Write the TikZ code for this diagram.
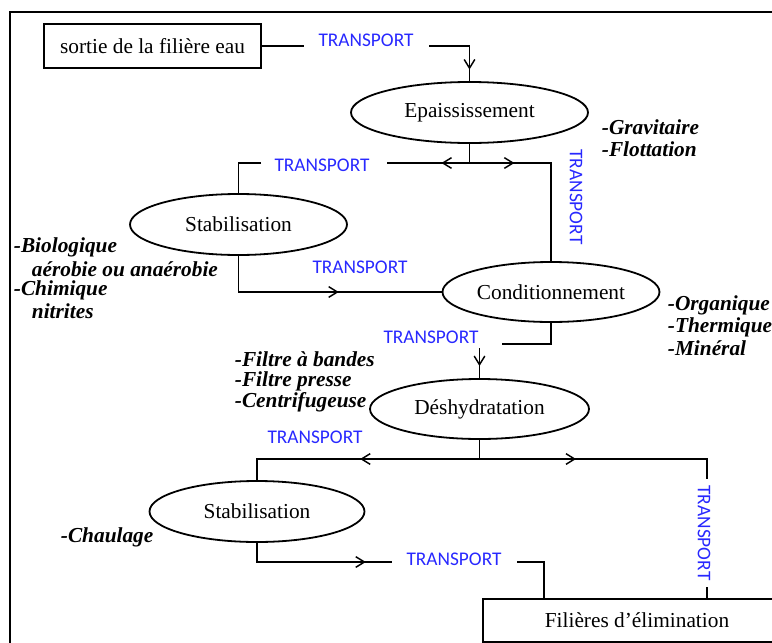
\documentclass[tikz,border=0pt]{standalone}
\usepackage{fontspec}
\setmainfont{Liberation Serif}
\newfontfamily\transfont{Carlito}
\usetikzlibrary{shapes.geometric,decorations.markings,arrows.meta}

\definecolor{transblue}{RGB}{40,40,255}
\tikzset{every picture/.style={line width=1.35pt}}
\tikzset{
  stage/.style={draw, ellipse, inner sep=0pt, font=\fontsize{16}{18}\selectfont},
  endbox/.style={draw, rectangle, inner sep=0pt, font=\fontsize{16}{18}\selectfont},
  transport/.style={text=transblue, inner sep=0pt, font=\transfont\fontsize{14.5}{16}\selectfont},
  process/.style={anchor=west, inner sep=0pt, font=\fontsize{16}{18}\selectfont\bfseries\itshape},
  midarrow/.style={postaction={decorate}, decoration={markings,
    mark=at position #1 with {\arrow{Straight Barb[length=6.5pt,width=8pt,line width=1.1pt]}}}},
}

\begin{document}
\begin{tikzpicture}[x=0.75pt,y=0.75pt,yscale=-1,xscale=1]
\useasboundingbox (0,0) rectangle (772,643);
\clip (0,0) rectangle (772,643);

%Outer frame
\draw (10,12) rectangle (800,670);

%Shape: Rectangle
\node [endbox, minimum width=162.75pt, minimum height=33pt] (sortie) at (152.5,46) {sortie de la filière eau};
\node [endbox, minimum width=231pt, minimum height=32.25pt] (elim) at (637,620.5) {Filières d'élimination};

%Shape: Ellipse
\node [stage, minimum width=177.75pt, minimum height=45.75pt] (epai) at (469.5,112.5) {Epaississement};
\node [stage, minimum width=162.75pt, minimum height=45.75pt] (stabA) at (238.5,224.5) {Stabilisation};
\node [stage, minimum width=162.75pt, minimum height=45pt] (cond) at (551,292) {Conditionnement};
\node [stage, minimum width=164.25pt, minimum height=45pt] (desh) at (479.5,409) {Déshydratation};
\node [stage, minimum width=161.25pt, minimum height=45.75pt] (stabB) at (257,511.5) {Stabilisation};

% Transport labels
\node [transport] (tA) at (366,40) {TRANSPORT};
\node [transport] (tB) at (322,165) {TRANSPORT};
\node [transport, rotate=-90] (tC) at (576,197) {TRANSPORT};
\node [transport] (tD) at (360,267) {TRANSPORT};
\node [transport] (tE) at (431,337) {TRANSPORT};
\node [transport] (tF) at (315,437) {TRANSPORT};
\node [transport, rotate=-90] (tG) at (704,533) {TRANSPORT};
\node [transport] (tH) at (454,559) {TRANSPORT};

% Text Node
\node [process] (grav) at (601,127) {-Gravitaire};
\node [process] (flot) at (601,149) {-Flottation};
\node [process] (bio) at (13,247) {-Biologique};
\node [process] (aero) at (31,269) {aérobie ou anaérobie};
\node [process] (chim) at (13,290) {-Chimique};
\node [process] (nitr) at (31,311) {nitrites};
\node [process] (orga) at (667,305) {-Organique};
\node [process] (therm) at (667,327) {-Thermique};
\node [process] (mine) at (667,348) {-Minéral};
\node [process] (fband) at (234,359) {-Filtre à bandes};
\node [process] (fpress) at (234,381) {-Filtre presse};
\node [process] (centri) at (234,402) {-Centrifugeuse};
\node [process] (chaul) at (60,537) {-Chaulage};

% Line ends
\coordinate (a1) at (304,46);
\coordinate (a2) at (429,46);
\coordinate (a3) at (469.5,46);
\coordinate (b0) at (469.5,163);
\coordinate (b1) at (387,163);
\coordinate (b2) at (261,163);
\coordinate (c1) at (502,344);
\coordinate (c2) at (479.5,348);
\coordinate (d0) at (479.5,459);
\coordinate (d1) at (707,479);
\coordinate (d2) at (707,587);
\coordinate (e1) at (392,562);
\coordinate (e2) at (517,562);
\coordinate (e3) at (544,599);

%Straight Lines
\draw (sortie.east) -- (a1);
\draw (a2) -- (a3);
\draw [midarrow=0.67] (a3) -- (epai.north);
\draw (epai.south) -- (b0);
\draw [midarrow=0.34] (b0) -- (b1);
\draw (b2) -| (stabA.north);
\draw [midarrow=0.25] (b0) -| (cond.north);
\draw [midarrow=0.57] (stabA.south) |- (cond.west);
\draw (cond.south) |- (c1);
\draw [midarrow=0.6] (c2) -- (desh.north);
\draw (desh.south) -- (d0);
\draw [midarrow=0.49] (d0) -| (stabB.north);
\draw [midarrow=0.39] (d0) -| (d1);
\draw (d2) -- (d2 |- elim.north);
\draw [midarrow=0.83] (stabB.south) |- (e1);
\draw (e2) -| (e3);

\end{tikzpicture}
\end{document}
